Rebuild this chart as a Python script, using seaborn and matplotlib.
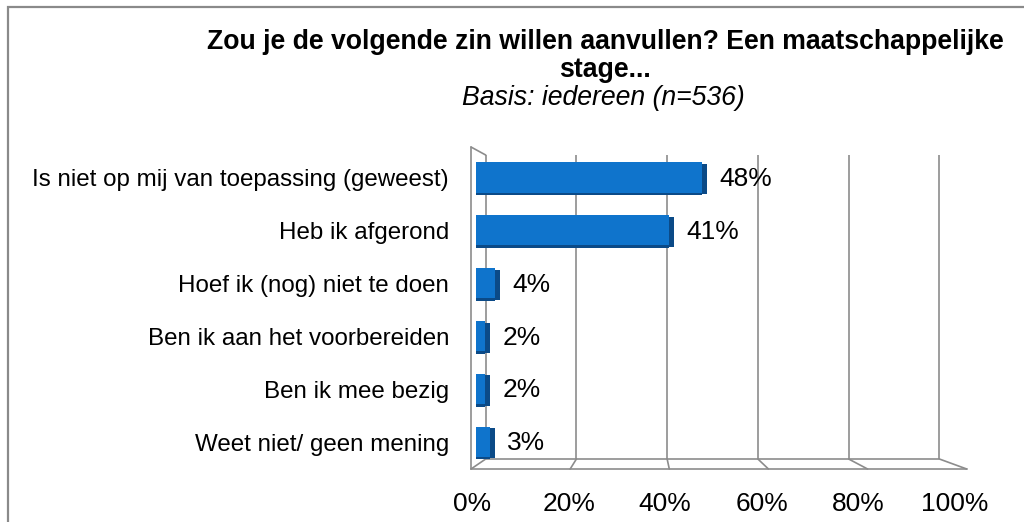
import matplotlib
matplotlib.use("Agg")
import matplotlib.pyplot as plt
import matplotlib.patheffects as pe
from matplotlib.patches import Rectangle
import seaborn as sns

# Chart data
categories = [
    "Is niet op mij van toepassing (geweest)",
    "Heb ik afgerond",
    "Hoef ik (nog) niet te doen",
    "Ben ik aan het voorbereiden",
    "Ben ik mee bezig",
    "Weet niet/ geen mening",
]
percentages = [48, 41, 4, 2, 2, 3]
tick_values = [0, 20, 40, 60, 80, 100]
tick_labels = ["0%", "20%", "40%", "60%", "80%", "100%"]

title_line1 = "Zou je de volgende zin willen aanvullen? Een maatschappelijke"
title_line2 = "stage..."
subtitle = "Basis: iedereen (n=536)"

sns.set_style("white")
plt.rcParams['font.family'] = ['Liberation Sans', 'DejaVu Sans']
plt.rcParams['text.color'] = 'black'
plt.rcParams['xtick.color'] = 'black'
plt.rcParams['ytick.color'] = 'black'

W, H = 1024, 522
FS = 17.4       # category labels
FS_NUM = 19.0   # value and tick labels
FS_TITLE = 19.2
GRID = "#8c8c8c"
SHADE = "#0b4a87"

fig = plt.figure(figsize=(W / 100, H / 100), dpi=100)

# outer frame of the chart area (runs off the right and bottom edge)
fig.add_artist(Rectangle((8 / W, -0.2), 1.2, 1.2 - 7 / H,
                         transform=fig.transFigure, fill=False,
                         edgecolor="#8a8a8a", linewidth=1.6))

fig.text(605 / W, 1 - 42 / H, title_line1, ha="center", va="center",
         fontsize=FS_TITLE, fontweight="bold")
fig.text(605 / W, 1 - 70 / H, title_line2, ha="center", va="center",
         fontsize=FS_TITLE, fontweight="bold")
fig.text(603 / W, 1 - 98 / H, subtitle, ha="center", va="center",
         fontsize=FS_TITLE, fontstyle="italic")

# plot area: x 0..100 maps to 472..955 px, back wall 155..459 px
ax = fig.add_axes([472 / W, 1 - 459 / H, 483 / W, 304 / H])
ax.set_facecolor("none")

sns.barplot(x=percentages, y=categories, orient="h", color="#0f74cc",
            saturation=1, width=0.57, ax=ax, zorder=3,
            edgecolor="none", linewidth=0)

ax.set_xlim(0, 100)
ax.set_ylim(5.321, -0.425)
for s in ax.spines.values():
    s.set_visible(False)

px = 4.83  # pixels per percent at bar depth
def to_data(p):
    return (p - 472) / px

# 3D-ish box: back wall gridlines, floor, left wall
back = [to_data(482 + 4.65 * v) for v in tick_values]
front = [to_data(467 + 5.08 * v) for v in tick_values]
y_top, y_back, y_front = -0.425, 5.321, 5.51
y_wall_top = -0.576
ax.vlines(back, y_top, y_back, color=GRID, lw=1.2, zorder=1)
ax.plot([back[0], back[-1]], [y_back, y_back], color=GRID, lw=1.2, clip_on=False, zorder=1)
ax.plot([front[0], front[-1]], [y_front, y_front], color=GRID, lw=1.2, clip_on=False, zorder=1)
for b, f in zip(back, front):
    ax.plot([b, f], [y_back, y_front], color=GRID, lw=1.2, clip_on=False, zorder=1)
ax.plot([front[0], front[0]], [y_wall_top, y_front], color=GRID, lw=1.2, clip_on=False, zorder=1)
ax.plot([front[0], back[0]], [y_wall_top, y_top], color=GRID, lw=1.2, clip_on=False, zorder=1)

# dark right side and bottom edge for a 3D look
for bar in ax.patches:
    bar.set_path_effects([
        pe.SimplePatchShadow(offset=(3.6, -1.0), shadow_rgbFace=SHADE, alpha=1.0),
        pe.SimplePatchShadow(offset=(0, -1.8), shadow_rgbFace=SHADE, alpha=1.0),
        pe.Normal(),
    ])

for i, v in enumerate(percentages):
    ax.annotate(f"{v}%", xy=(v, i), xytext=(12.5, -1), textcoords="offset points",
                va="center", ha="left", fontsize=FS_NUM)

label_pos = [to_data(468 + 4.95 * v) for v in tick_values]
ax.set_xticks(label_pos)
ax.set_xticklabels(tick_labels, fontsize=FS_NUM)
ax.tick_params(axis="x", length=0, pad=23.5)
ax.tick_params(axis="y", length=0, pad=16.5, labelsize=FS)
ax.set_xlabel("")
ax.set_ylabel("")

fig.savefig("out.png", dpi=100)
